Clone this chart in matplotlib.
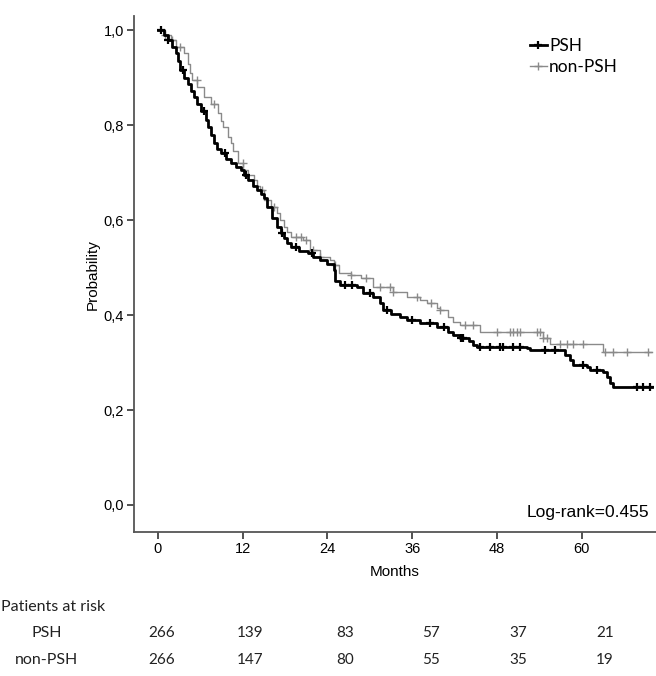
import numpy as np
import matplotlib
matplotlib.use("Agg")
from matplotlib import pyplot as plt
from matplotlib.lines import Line2D

# step points (months, survival)
psh_t = [0, 0.8, 1.4, 2.0, 2.5, 2.9, 3.2, 3.7, 4.2, 4.7, 5.1, 5.6, 6.1, 6.8, 7.1, 7.5,
         7.9, 8.4, 8.9, 9.6, 10.3, 11.0, 11.7, 12.2, 12.7, 13.4, 14.1, 14.6, 15.0,
         15.5, 16.2, 16.9, 17.4, 17.8, 18.3, 18.8, 20.0, 21.2, 22.0, 23.0, 24.0, 24.9,
         25.1, 25.8, 28.2, 29.1, 30.5, 31.5, 31.9, 33.0, 34.3, 35.3, 37.1, 39.5, 41.0,
         41.8, 42.8, 44.0, 44.6, 45.2, 52.3, 52.7, 57.6, 58.3, 58.8, 60.7, 61.1, 63.0,
         63.6, 64.0, 64.4, 70.0]
psh_s = [1.0, 0.99, 0.979, 0.965, 0.952, 0.935, 0.916, 0.90, 0.888, 0.873, 0.859,
         0.845, 0.830, 0.811, 0.796, 0.78, 0.762, 0.75, 0.741, 0.73, 0.72, 0.712,
         0.705, 0.695, 0.684, 0.673, 0.663, 0.655, 0.646, 0.627, 0.605, 0.585, 0.573,
         0.563, 0.552, 0.543, 0.536, 0.531, 0.522, 0.516, 0.508, 0.495, 0.472, 0.463,
         0.459, 0.446, 0.438, 0.425, 0.411, 0.403, 0.396, 0.389, 0.383, 0.375, 0.364,
         0.358, 0.352, 0.345, 0.337, 0.333, 0.331, 0.326, 0.316, 0.305, 0.295, 0.291,
         0.284, 0.280, 0.269, 0.257, 0.248, 0.248]
psh_cens = [0.5, 1.5, 3.5, 6.5, 9.5, 12.5, 17.5, 19.5, 21.8, 26.5, 27.5, 30.0, 32.5,
            36.0, 38.5, 40.5, 42.9, 43.2, 45.6, 47.0, 48.4, 48.9, 50.3, 51.3, 54.8,
            56.2, 60.2, 62.1, 67.8, 68.6, 69.6]

non_t = [0, 1.0, 1.8, 2.6, 3.7, 4.2, 4.5, 4.8, 5.6, 6.5, 7.5, 8.5, 8.9, 9.2, 9.9,
         10.3, 10.7, 11.3, 12.1, 12.8, 13.6, 14.1, 14.5, 15.0, 16.0, 16.9, 17.3, 17.8,
         18.3, 18.8, 20.6, 21.6, 23.0, 24.4, 24.9, 25.6, 27.3, 28.7, 30.5, 33.3, 35.3,
         37.1, 38.1, 39.5, 40.0, 41.0, 41.8, 42.8, 45.6, 54.5, 55.5, 63.0, 70.0]
non_s = [1.0, 0.99, 0.979, 0.965, 0.952, 0.93, 0.91, 0.895, 0.88, 0.859, 0.846, 0.825,
         0.81, 0.796, 0.775, 0.762, 0.747, 0.72, 0.705, 0.695, 0.684, 0.673, 0.663,
         0.642, 0.627, 0.615, 0.60, 0.585, 0.575, 0.564, 0.558, 0.537, 0.522, 0.516,
         0.505, 0.488, 0.484, 0.478, 0.459, 0.448, 0.438, 0.432, 0.425, 0.415, 0.411,
         0.396, 0.385, 0.379, 0.364, 0.352, 0.339, 0.323, 0.323]
non_cens = [1.0, 2.0, 3.2, 5.5, 8.0, 12.0, 14.8, 16.5, 19.5, 20.2, 20.9, 22.0, 23.0,
            25.1, 27.3, 29.5, 31.5, 32.9, 33.3, 36.7, 38.6, 40.0, 43.5, 44.6, 48.0,
            49.9, 50.3, 50.8, 51.3, 53.7, 54.1, 54.5, 55.1, 56.9, 57.9, 58.8, 60.2,
            63.3, 64.4, 66.4, 69.3]

xticks = [0, 12, 24, 36, 48, 60]
yticks = [0.0, 0.2, 0.4, 0.6, 0.8, 1.0]
ytick_labels = ["0,0", "0,2", "0,4", "0,6", "0,8", "1,0"]

groups = ["PSH", "non-PSH"]
at_risk_psh = [266, 139, 83, 57, 37, 21]
at_risk_non = [266, 147, 80, 55, 35, 19]
log_rank = "Log-rank=0.455"

plt.rcParams['font.family'] = ['Liberation Sans', 'DejaVu Sans']

fig = plt.figure(figsize=(6.56, 6.76), dpi=100)
ax = fig.add_axes([0.204, 0.213, 0.796, 0.763])


def surv_at(t, s, c):
    idx = np.searchsorted(np.array(t), np.array(c), side='right') - 1
    return np.array(s)[idx]


ax.step(non_t, non_s, where='post', color='#8a8a8a', lw=1.0, zorder=2)
ax.plot(non_cens, surv_at(non_t, non_s, non_cens), ls='none', marker='+',
        color='#8a8a8a', ms=6, mew=1.0, zorder=2)
ax.step(psh_t, psh_s, where='post', color='black', lw=2.0, zorder=3)
ax.plot(psh_cens, surv_at(psh_t, psh_s, psh_cens), ls='none', marker='+',
        color='black', ms=6, mew=1.6, zorder=3)

ax.set_xlim(-3.4, 70.5)
ax.set_ylim(-0.057, 1.03)
ax.set_xticks(xticks)
ax.set_yticks(yticks)
ax.set_yticklabels(ytick_labels)
ax.tick_params(labelsize=10.5, colors='#333333', length=5, width=1.2, pad=2)
ax.tick_params(axis='x', labelcolor='black')
ax.tick_params(axis='y', labelcolor='black')
for side in ['top', 'right']:
    ax.spines[side].set_visible(False)
for side in ['left', 'bottom']:
    ax.spines[side].set_color('#555555')
    ax.spines[side].set_linewidth(1.3)

ax.set_xlabel("Months", fontsize=11, labelpad=7)
ax.set_ylabel("Probability", fontsize=11, labelpad=3)
ax.text(0.988, 0.038, log_rank, transform=ax.transAxes, ha='right', va='center',
        fontsize=12.5)

handles = [Line2D([], [], color='black', lw=2.0, marker='+', ms=6, mew=1.6),
           Line2D([], [], color='#8a8a8a', lw=1.0, marker='+', ms=6, mew=1.0)]
leg = ax.legend(handles, groups, loc='upper left', bbox_to_anchor=(0.745, 0.972),
                frameon=False, fontsize=12.5, handlelength=1.0, handletextpad=0.1,
                labelspacing=0.3, borderaxespad=0)
for txt in leg.get_texts():
    txt.set_family(['Lato', 'DejaVu Sans'])

# numbers at risk below the chart
W, H = 656.0, 676.0
col_x = [162, 250, 345, 431, 518, 605]
fig.text(1 / W, 1 - 607 / H, "Patients at risk", fontsize=11.5, va='center',
         ha='left', family=['Lato', 'DejaVu Sans'], color='#222222')
for row_y, name, vals in [(633, groups[0], at_risk_psh), (660, groups[1], at_risk_non)]:
    fig.text(47 / W, 1 - row_y / H, name, fontsize=11.5, va='center', ha='center',
             family=['Lato', 'DejaVu Sans'], color='#222222')
    for x, v in zip(col_x, vals):
        fig.text(x / W, 1 - row_y / H, str(v), fontsize=11, va='center', ha='center',
                 family=['Lato', 'DejaVu Sans'], color='#222222')

fig.savefig("out.png", dpi=100)
